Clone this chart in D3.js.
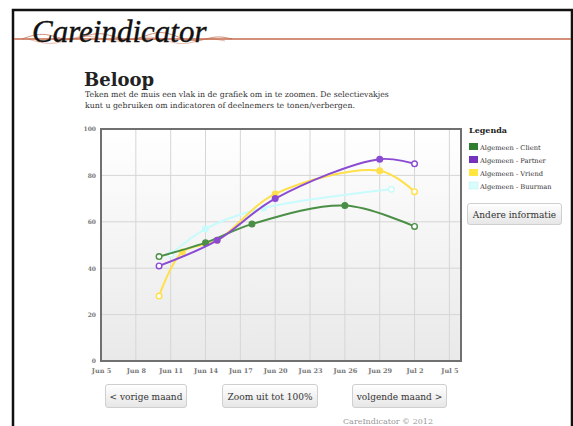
<!DOCTYPE html>
<html>
<head>
<meta charset="utf-8">
<script src="https://cdn.jsdelivr.net/npm/d3@7"></script>
<style>
  body { margin: 0; background: #fff; overflow: hidden; }
  svg { display: block; font-family: "DejaVu Serif", Georgia, serif; }
</style>
</head>
<body>
<div id="chart"></div>
<script>
// chart values
var tickLabels = ["Jun 5", "Jun 8", "Jun 11", "Jun 14", "Jun 17", "Jun 20", "Jun 23", "Jun 26", "Jun 29", "Jul 2", "Jul 5"];
var yTicks = [0, 20, 40, 60, 80, 100];
var seriesNames = ["Algemeen - Client", "Algemeen - Partner", "Algemeen - Vriend", "Algemeen - Buurman"];
var clientDates = ["Jun 10", "Jun 14", "Jun 18", "Jun 26", "Jul 2"];
var clientValues = [45, 51, 59, 67, 58];
var partnerDates = ["Jun 10", "Jun 15", "Jun 20", "Jun 29", "Jul 2"];
var partnerValues = [41, 52, 70, 87, 85];
var vriendDates = ["Jun 10", "Jun 12", "Jun 15", "Jun 20", "Jun 29", "Jul 2"];
var vriendValues = [28, 47, 52, 72, 82, 73];
var buurmanDates = ["Jun 11", "Jun 14", "Jun 19", "Jun 30"];
var buurmanValues = [46, 57, 66, 74];
var buttonLabels = ["< vorige maand", "Zoom uit tot 100%", "volgende maand >"];

var svgWidth = 573;
var svgHeight = 426;

// plot area inside the page
var plot = { left: 101, top: 129, right: 461, bottom: 361 };

var parse = d3.timeParse("%b %d %Y");
function toDate(s) { return parse(s + " 2012"); }

var svg = d3.select("#chart").append("svg")
  .attr("width", svgWidth)
  .attr("height", svgHeight);

var defs = svg.append("defs");
var bg = defs.append("linearGradient").attr("id", "plotbg")
  .attr("x1", 0).attr("y1", 0).attr("x2", 0).attr("y2", 1);
bg.append("stop").attr("offset", "0%").attr("stop-color", "#ffffff");
bg.append("stop").attr("offset", "100%").attr("stop-color", "#e9e9e9");

var btn = defs.append("linearGradient").attr("id", "btnbg")
  .attr("x1", 0).attr("y1", 0).attr("x2", 0).attr("y2", 1);
btn.append("stop").attr("offset", "0%").attr("stop-color", "#ffffff");
btn.append("stop").attr("offset", "100%").attr("stop-color", "#e6e6e6");

// page frame
svg.append("path")
  .attr("d", "M13,426 V10 H572 V426")
  .attr("fill", "none")
  .attr("stroke", "#111")
  .attr("stroke-width", 2.5);

// header rule and flourish
svg.append("line")
  .attr("x1", 14).attr("x2", 571)
  .attr("y1", 39).attr("y2", 39)
  .attr("stroke", "#c46a4c")
  .attr("stroke-width", 1.5);

var wave = d3.line().curve(d3.curveBasis);
svg.append("path")
  .attr("d", wave([[22, 39], [45, 31], [70, 44], [100, 28], [130, 46], [160, 26], [190, 45], [215, 35], [232, 39]]))
  .attr("fill", "none").attr("stroke", "#c46a4c").attr("stroke-width", 0.9).attr("opacity", 0.85);
svg.append("path")
  .attr("d", wave([[28, 39], [55, 47], [85, 31], [118, 46], [150, 32], [180, 48], [205, 37], [225, 41]]))
  .attr("fill", "none").attr("stroke", "#c46a4c").attr("stroke-width", 0.7).attr("opacity", 0.65);

svg.append("text")
  .attr("x", 32).attr("y", 42)
  .attr("font-family", "'Liberation Serif', serif")
  .attr("font-style", "italic")
  .attr("font-size", 31)
  .attr("fill", "#111")
  .attr("stroke", "#111")
  .attr("stroke-width", 0.4)
  .text("Careindicator");

// title and intro
svg.append("text")
  .attr("x", 84).attr("y", 86)
  .attr("font-size", 18)
  .attr("font-weight", "bold")
  .attr("fill", "#222")
  .text("Beloop");

svg.append("text")
  .attr("x", 85).attr("y", 97)
  .attr("font-size", 7.8)
  .attr("fill", "#333")
  .text("Teken met de muis een vlak in de grafiek om in te zoomen. De selectievakjes");
svg.append("text")
  .attr("x", 85).attr("y", 108)
  .attr("font-size", 7.8)
  .attr("fill", "#333")
  .text("kunt u gebruiken om indicatoren of deelnemers te tonen/verbergen.");

// scales
var x = d3.scaleTime()
  .domain([toDate("Jun 5"), toDate("Jul 6")])
  .range([plot.left, plot.right]);
var y = d3.scaleLinear()
  .domain([0, 100])
  .range([plot.bottom, plot.top]);

var tickDates = tickLabels.map(toDate);

// plot background
svg.append("rect")
  .attr("x", plot.left).attr("y", plot.top)
  .attr("width", plot.right - plot.left)
  .attr("height", plot.bottom - plot.top)
  .attr("fill", "url(#plotbg)");

// grid
svg.append("g").selectAll("line")
  .data(tickDates.slice(1))
  .enter().append("line")
  .attr("x1", function(d) { return x(d); })
  .attr("x2", function(d) { return x(d); })
  .attr("y1", plot.top).attr("y2", plot.bottom)
  .attr("stroke", "#d6d6d6").attr("stroke-width", 1);

svg.append("g").selectAll("line")
  .data(yTicks.slice(1, -1))
  .enter().append("line")
  .attr("x1", plot.left).attr("x2", plot.right)
  .attr("y1", function(d) { return y(d); })
  .attr("y2", function(d) { return y(d); })
  .attr("stroke", "#d6d6d6").attr("stroke-width", 1);

// axes
var bottomAxis = d3.axisBottom(x)
  .tickValues(tickDates)
  .tickSize(0)
  .tickPadding(7)
  .tickFormat(function(d, i) { return tickLabels[i]; });
var gx = svg.append("g")
  .attr("transform", "translate(0," + plot.bottom + ")")
  .call(bottomAxis);
gx.select(".domain").remove();
gx.selectAll("text")
  .attr("font-family", "'DejaVu Serif', serif")
  .attr("font-size", 6.5)
  .attr("font-weight", "bold")
  .attr("fill", "#777");

var leftAxis = d3.axisLeft(y)
  .tickValues(yTicks)
  .tickSize(0)
  .tickPadding(5);
var gy = svg.append("g")
  .attr("transform", "translate(" + plot.left + ",0)")
  .call(leftAxis);
gy.select(".domain").remove();
gy.selectAll("text")
  .attr("font-family", "'DejaVu Serif', serif")
  .attr("font-size", 6)
  .attr("font-weight", "bold")
  .attr("fill", "#777");

// series
var series = [
  { name: seriesNames[0], dates: clientDates, values: clientValues, color: "#4a8f45", legend: "#2f7d2f" },
  { name: seriesNames[1], dates: partnerDates, values: partnerValues, color: "#8a4bd2", legend: "#7432bd" },
  { name: seriesNames[2], dates: vriendDates, values: vriendValues, color: "#ffe04a", legend: "#ffe640" },
  { name: seriesNames[3], dates: buurmanDates, values: buurmanValues, color: "#c8fbfb", legend: "#d8fdfd" }
];

var line = d3.line()
  .x(function(d) { return x(d.date); })
  .y(function(d) { return y(d.value); })
  .curve(d3.curveCatmullRom.alpha(0.5));

// draw back to front so green/purple sit on top
[3, 2, 0, 1].forEach(function(k) {
  var s = series[k];
  var pts = s.dates.map(function(d, i) { return { date: toDate(d), value: s.values[i] }; });
  svg.append("path")
    .datum(pts)
    .attr("d", line)
    .attr("fill", "none")
    .attr("stroke", s.color)
    .attr("stroke-width", 2);
  svg.append("g").selectAll("circle")
    .data(pts)
    .enter().append("circle")
    .attr("cx", function(d) { return x(d.date); })
    .attr("cy", function(d) { return y(d.value); })
    .attr("r", 2.8)
    .attr("fill", function(d, i) { return (i === 0 || i === pts.length - 1) ? "#fff" : s.color; })
    .attr("stroke", s.color)
    .attr("stroke-width", 1.4);
});

// plot border
svg.append("rect")
  .attr("x", plot.left).attr("y", plot.top)
  .attr("width", plot.right - plot.left)
  .attr("height", plot.bottom - plot.top)
  .attr("fill", "none")
  .attr("stroke", "#707070")
  .attr("stroke-width", 2);

// legend
svg.append("text")
  .attr("x", 469).attr("y", 133)
  .attr("font-size", 8)
  .attr("font-weight", "bold")
  .attr("fill", "#222")
  .text("Legenda");

var legend = svg.append("g").selectAll("g")
  .data(series)
  .enter().append("g")
  .attr("transform", function(d, i) { return "translate(469," + (143 + i * 13) + ")"; });
legend.append("rect")
  .attr("width", 9).attr("height", 7)
  .attr("fill", function(d) { return d.legend; })
  .attr("stroke", function(d, i) { return i === 3 ? "#c4eeee" : "none"; })
  .attr("stroke-width", 0.5);
legend.append("text")
  .attr("x", 11).attr("y", 6.5)
  .attr("font-size", 6.7)
  .attr("fill", "#333")
  .text(function(d) { return d.name; });

// buttons
function button(x0, y0, w, h, label) {
  var g = svg.append("g").attr("transform", "translate(" + x0 + "," + y0 + ")");
  g.append("rect")
    .attr("x", 0.5).attr("y", 0.5)
    .attr("width", w).attr("height", h)
    .attr("rx", 2.5)
    .attr("fill", "url(#btnbg)")
    .attr("stroke", "#cfcfcf");
  g.append("text")
    .attr("x", w / 2 + 0.5).attr("y", h / 2 + 4)
    .attr("text-anchor", "middle")
    .attr("font-size", 9)
    .attr("fill", "#333")
    .text(label);
}
button(467, 203, 94, 21, "Andere informatie");
button(105, 384, 81, 23, buttonLabels[0]);
button(222, 384, 95, 23, buttonLabels[1]);
button(352, 384, 94, 23, buttonLabels[2]);

// footer at the bottom edge
svg.append("text")
  .attr("x", 343).attr("y", 424)
  .attr("font-size", 8)
  .attr("fill", "#999")
  .text("CareIndicator © 2012");
</script>
</body>
</html>
